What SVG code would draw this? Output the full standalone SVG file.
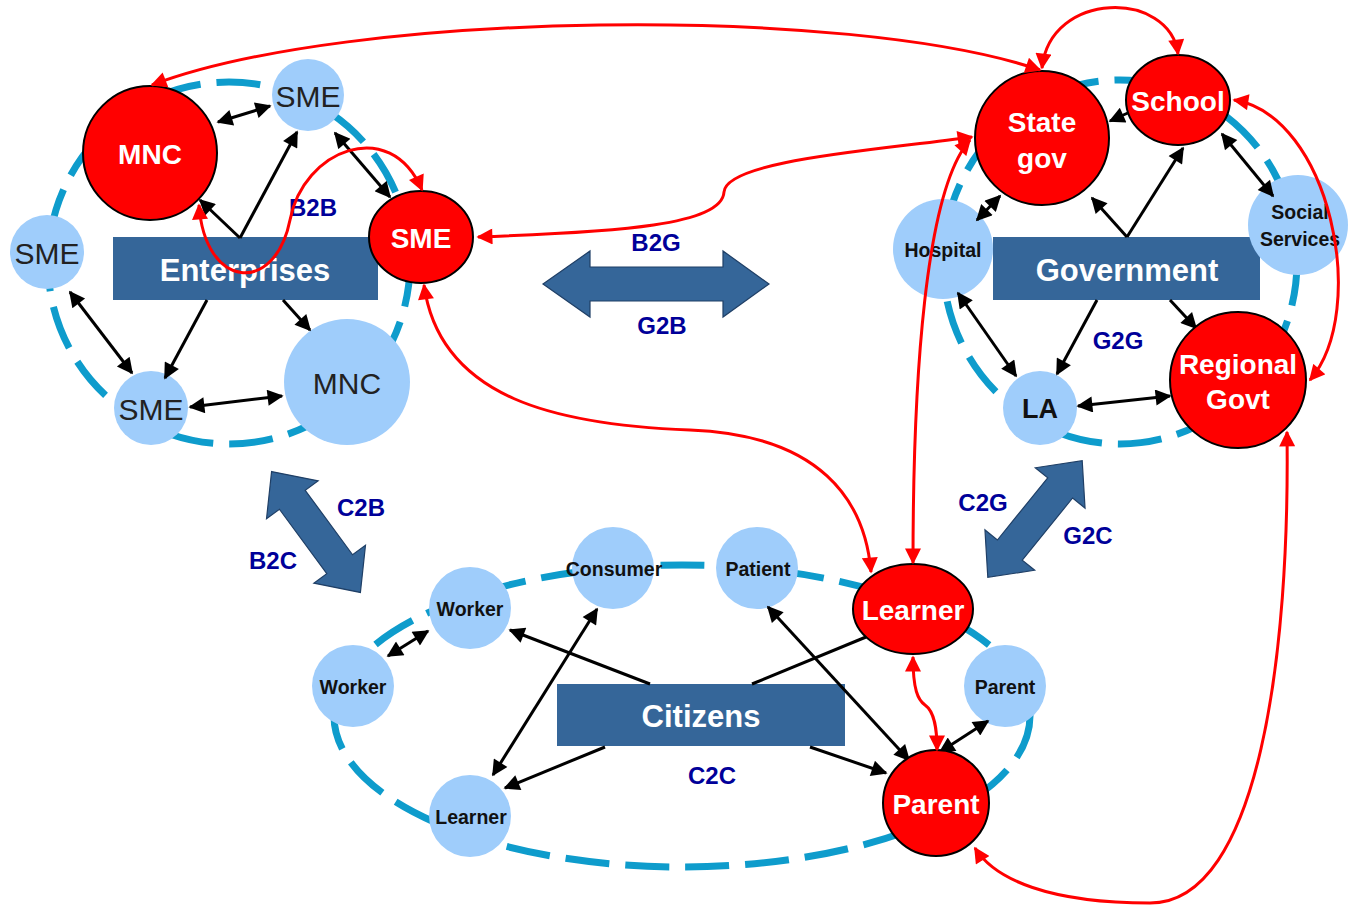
<svg xmlns="http://www.w3.org/2000/svg" width="1349" height="906" viewBox="0 0 1349 906">
<defs>
<style>
text{font-family:"Liberation Sans",Arial,sans-serif;text-anchor:middle;dominant-baseline:central}
.ring{fill:none;stroke:#0e9ccc;stroke-width:7;stroke-dasharray:44 16}
.lb{fill:#9fcdfb}
.rd{fill:#ff0000;stroke:#000;stroke-width:2}
.box{fill:#356699}
.bt{fill:#fff;font-weight:bold;font-size:31px}
.wt{fill:#fff;font-weight:bold;font-size:28px}
.nt{fill:#222;font-size:30px}
.st{fill:#111;font-weight:bold;font-size:19.5px}
.lab{fill:#000099;font-weight:bold;font-size:24px}
.blk{fill:none;stroke:#000;stroke-width:3}
.red{fill:none;stroke:#ff0000;stroke-width:3}
.big{fill:#356699;stroke:#1f3f66;stroke-width:1.2}
</style>
<marker id="ab" viewBox="0 0 10 10" refX="9" refY="5" markerWidth="18" markerHeight="16" markerUnits="userSpaceOnUse" orient="auto-start-reverse"><path d="M0,0 L10,5 L0,10 z" fill="#000"/></marker>
<marker id="ar" viewBox="0 0 10 10" refX="9" refY="5" markerWidth="17" markerHeight="16" markerUnits="userSpaceOnUse" orient="auto-start-reverse"><path d="M0,0 L10,5 L0,10 z" fill="#ff0000"/></marker>
<polygon id="dbl150" points="-75,0 -40,-32 -40,-16 40,-16 40,-32 75,0 40,32 40,16 -40,16 -40,32"/>
</defs>

<!-- rings -->
<ellipse class="ring" cx="229" cy="263" rx="181" ry="181"/>
<ellipse class="ring" cx="1120" cy="262" rx="177" ry="182"/>
<ellipse class="ring" cx="682" cy="716" rx="348" ry="151"/>

<!-- block arrows -->
<g id="b2g-arrow">
<polygon class="big" points="543,284 590,251 590,267 723,267 723,251 769,284 723,317 723,301 590,301 590,317"/>
<text class="lab" x="656" y="242">B2G</text>
<text class="lab" x="662" y="325">G2B</text>
</g>
<g id="b2c-arrow">
<use href="#dbl150" class="big" transform="translate(316,532) rotate(53.7)"/>
<text class="lab" x="361" y="507">C2B</text>
<text class="lab" x="273" y="560">B2C</text>
</g>
<g id="c2g-arrow">
<use href="#dbl150" class="big" transform="translate(1035,519) rotate(-51)"/>
<text class="lab" x="983" y="502">C2G</text>
<text class="lab" x="1088" y="535">G2C</text>
</g>

<!-- light nodes -->
<g id="ent-sme-top"><circle class="lb" cx="308" cy="95" r="36"/><text class="nt" x="308" y="96">SME</text></g>
<g id="ent-sme-left"><circle class="lb" cx="47" cy="252" r="37"/><text class="nt" x="47" y="253">SME</text></g>
<g id="ent-sme-bottom"><circle class="lb" cx="151" cy="408" r="37"/><text class="nt" x="151" y="409">SME</text></g>
<g id="ent-mnc-big"><circle class="lb" cx="347" cy="382" r="63"/><text class="nt" x="347" y="383">MNC</text></g>
<g id="gov-la"><circle class="lb" cx="1040" cy="408" r="37"/><text x="1040" y="409" style="fill:#111;font-weight:bold;font-size:27px">LA</text></g>
<g id="cit-worker-up"><circle class="lb" cx="470" cy="608" r="41"/><text class="st" x="470" y="609">Worker</text></g>
<g id="cit-worker-low"><circle class="lb" cx="353" cy="686" r="41"/><text class="st" x="353" y="687">Worker</text></g>
<g id="cit-consumer"><circle class="lb" cx="613" cy="568" r="41"/><text class="st" x="614" y="569">Consumer</text></g>
<g id="cit-patient"><circle class="lb" cx="757" cy="568" r="41"/><text class="st" x="758" y="569">Patient</text></g>
<g id="cit-learner-light"><circle class="lb" cx="470" cy="816" r="41"/><text class="st" x="471" y="817">Learner</text></g>
<g id="cit-parent-light"><circle class="lb" cx="1005" cy="686" r="41"/><text class="st" x="1005" y="687">Parent</text></g>

<!-- boxes -->
<g id="ent-box"><rect class="box" x="113" y="237" width="265" height="63"/><text class="bt" x="245" y="270">Enterprises</text></g>
<g id="gov-box"><rect class="box" x="993" y="237" width="267" height="63"/><text class="bt" x="1127" y="270">Government</text></g>
<g id="cit-box"><rect class="box" x="557" y="684" width="288" height="62"/><text class="bt" x="701" y="716">Citizens</text></g>
<g id="gov-hospital"><circle class="lb" cx="943" cy="249" r="50"/><text class="st" x="943" y="250">Hospital</text></g>
<g id="gov-social"><circle class="lb" cx="1298" cy="225" r="50"/><text class="st" x="1300" y="212">Social</text><text class="st" x="1300" y="239">Services</text></g>

<!-- black connectors -->
<g id="connectors">
<path class="blk" d="M218,122 L270,106" marker-start="url(#ab)" marker-end="url(#ab)"/>
<path class="blk" d="M240,238 L297,132" marker-end="url(#ab)"/>
<path class="blk" d="M240,238 L200,200" marker-end="url(#ab)"/>
<path class="blk" d="M335,133 L390,197" marker-start="url(#ab)" marker-end="url(#ab)"/>
<path class="blk" d="M70,292 L132,373" marker-start="url(#ab)" marker-end="url(#ab)"/>
<path class="blk" d="M207,300 L165,378" marker-end="url(#ab)"/>
<path class="blk" d="M283,300 L310,330" marker-end="url(#ab)"/>
<path class="blk" d="M190,407 L282,396" marker-start="url(#ab)" marker-end="url(#ab)"/>

<path class="blk" d="M1130,112 L1110,121" marker-end="url(#ab)"/>
<path class="blk" d="M1127,237 L1092,198" marker-end="url(#ab)"/>
<path class="blk" d="M1127,237 L1183,148" marker-end="url(#ab)"/>
<path class="blk" d="M1222,134 L1273,196" marker-start="url(#ab)" marker-end="url(#ab)"/>
<path class="blk" d="M1000,196 L977,220" marker-start="url(#ab)" marker-end="url(#ab)"/>
<path class="blk" d="M958,293 L1016,376" marker-start="url(#ab)" marker-end="url(#ab)"/>
<path class="blk" d="M1097,300 L1057,374" marker-end="url(#ab)"/>
<path class="blk" d="M1170,300 L1196,328" marker-end="url(#ab)"/>
<path class="blk" d="M1078,406 L1170,396" marker-start="url(#ab)" marker-end="url(#ab)"/>

<path class="blk" d="M388,656 L428,631" marker-start="url(#ab)" marker-end="url(#ab)"/>
<path class="blk" d="M650,684 L510,630" marker-end="url(#ab)"/>
<path class="blk" d="M597,609 L493,775" marker-start="url(#ab)" marker-end="url(#ab)"/>
<path class="blk" d="M605,747 L505,788" marker-end="url(#ab)"/>
<path class="blk" d="M752,684 L866,637"/>
<path class="blk" d="M768,607 L909,760" marker-start="url(#ab)" marker-end="url(#ab)"/>
<path class="blk" d="M810,747 L886,773" marker-end="url(#ab)"/>
<path class="blk" d="M940,752 L988,721" marker-start="url(#ab)" marker-end="url(#ab)"/>
</g>

<!-- red nodes -->
<g id="ent-mnc-red"><circle class="rd" cx="150" cy="153" r="67"/><text class="wt" x="150" y="154">MNC</text></g>
<g id="ent-sme-red"><ellipse class="rd" cx="421" cy="237" rx="52" ry="46"/><text class="wt" x="421" y="238">SME</text></g>
<text class="lab" x="313" y="207">B2B</text>
<g id="gov-state"><circle class="rd" cx="1042" cy="138" r="67"/><text class="wt" x="1042" y="122">State</text><text class="wt" x="1042" y="158">gov</text></g>
<g id="gov-school"><ellipse class="rd" cx="1178" cy="100" rx="52" ry="45"/><text class="wt" x="1178" y="101">School</text></g>
<g id="gov-regional"><circle class="rd" cx="1238" cy="380" r="68"/><text class="wt" x="1238" y="364">Regional</text><text class="wt" x="1238" y="399">Govt</text></g>
<text class="lab" x="1118" y="340">G2G</text>
<g id="cit-learner-red"><ellipse class="rd" cx="913" cy="609" rx="60" ry="45"/><text class="wt" x="913" y="610">Learner</text></g>
<g id="cit-parent-red"><circle class="rd" cx="936" cy="803" r="53"/><text class="wt" x="936" y="804">Parent</text></g>
<text class="lab" x="712" y="775">C2C</text>

<!-- red connectors -->
<g id="red-connectors">
<path class="red" d="M152,85 C350,10 850,5 1040,70" marker-start="url(#ar)" marker-end="url(#ar)"/>
<path class="red" d="M199,205 C205,290 275,295 290,220 C303,150 390,115 422,190" marker-start="url(#ar)" marker-end="url(#ar)"/>
<path class="red" d="M478,237 C620,232 722,225 724,192 C726,160 880,150 972,137" marker-start="url(#ar)" marker-end="url(#ar)"/>
<path class="red" d="M424,285 C440,400 560,425 690,430 C820,435 865,500 871,572" marker-start="url(#ar)" marker-end="url(#ar)"/>
<path class="red" d="M913,563 C913,380 925,190 970,140" marker-start="url(#ar)" marker-end="url(#ar)"/>
<path class="red" d="M1042,68 C1050,-10 1170,-10 1178,54" marker-start="url(#ar)" marker-end="url(#ar)"/>
<path class="red" d="M1234,100 C1330,115 1370,310 1310,380" marker-start="url(#ar)" marker-end="url(#ar)"/>
<path class="red" d="M1287,432 C1290,650 1260,903 1150,903 C1050,903 995,880 975,848" marker-start="url(#ar)" marker-end="url(#ar)"/>
<path class="red" d="M913,657 C913,690 918,700 925,705 C935,712 937,730 937,750" marker-start="url(#ar)" marker-end="url(#ar)"/>
</g>
</svg>
